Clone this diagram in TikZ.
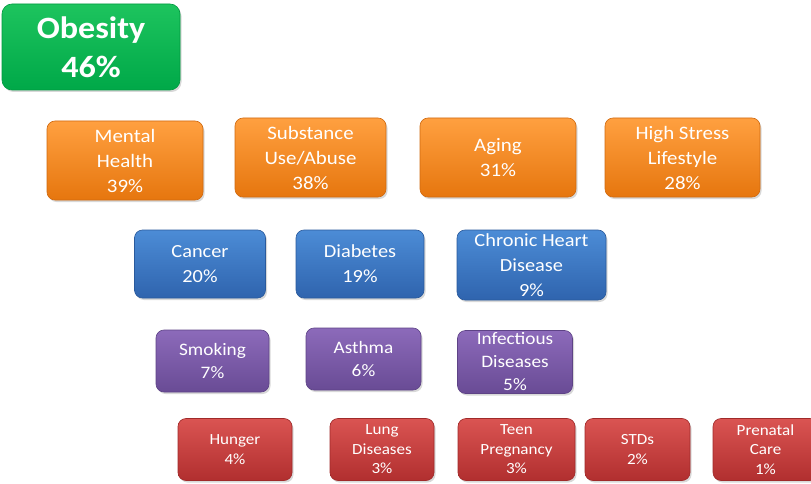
\documentclass[tikz,border=0pt]{standalone}
\usepackage{fontspec}
\setmainfont[FakeStretch=1.1]{Carlito}
\usetikzlibrary{shadows}
\definecolor{gtop}{HTML}{1DC45E}
\definecolor{gbot}{HTML}{00A848}
\definecolor{gdraw}{HTML}{009A40}
\definecolor{otop}{HTML}{FFA040}
\definecolor{obot}{HTML}{E6760E}
\definecolor{odraw}{HTML}{D06A10}
\definecolor{btop}{HTML}{4C8CD6}
\definecolor{bbot}{HTML}{2F64AE}
\definecolor{bdraw}{HTML}{2A5A9C}
\definecolor{ptop}{HTML}{8C6ABA}
\definecolor{pbot}{HTML}{694B95}
\definecolor{pdraw}{HTML}{5E4386}
\definecolor{rtop}{HTML}{DA5452}
\definecolor{rbot}{HTML}{B12F2F}
\definecolor{rdraw}{HTML}{A02A2A}
\tikzset{
  box/.style={rectangle, rounded corners=8pt, inner sep=0pt, align=center, text=white, line width=0.6pt,
    drop shadow={opacity=0.3, shadow xshift=1.5pt, shadow yshift=-2pt}},
  greenbox/.style={box, draw=gdraw, top color=gtop, bottom color=gbot, rounded corners=10pt,
    font=\fontsize{31}{39}\selectfont\bfseries},
  orangebox/.style={box, draw=odraw, top color=otop, bottom color=obot, minimum height=79pt,
    font=\fontsize{19}{25}\selectfont},
  bluebox/.style={box, draw=bdraw, top color=btop, bottom color=bbot,
    font=\fontsize{18.5}{25}\selectfont},
  purplebox/.style={box, draw=pdraw, top color=ptop, bottom color=pbot,
    font=\fontsize{17.5}{23}\selectfont},
  redbox/.style={box, draw=rdraw, top color=rtop, bottom color=rbot, minimum height=62pt,
    font=\fontsize{15.5}{19.5}\selectfont}
}
\begin{document}
\begin{tikzpicture}[x=1pt,y=-1pt]
\useasboundingbox (0,0) rectangle (811,484);
\fill[white] (0,0) rectangle (811,484);
\node[greenbox, minimum width=178pt, minimum height=86pt] (obesity) at (91,47) {Obesity\\46\%};
% orange row
\node[orangebox, minimum width=156pt] (mental) at (125,160.5) {Mental\\Health\\39\%};
\node[orangebox, minimum width=151pt] (substance) at (310.5,157.5) {Substance\\Use/Abuse\\38\%};
\node[orangebox, minimum width=156pt] (aging) at (498,157.5) {Aging\\31\%};
\node[orangebox, minimum width=155pt] (stress) at (682.5,157.5) {High Stress\\Lifestyle\\28\%};
% blue row
\node[bluebox, minimum width=131pt, minimum height=68pt] (cancer) at (200,264) {Cancer\\20\%};
\node[bluebox, minimum width=128pt, minimum height=68pt] (diabetes) at (360,264) {Diabetes\\19\%};
\node[bluebox, minimum width=149pt, minimum height=70pt] (heart) at (531.5,265) {Chronic Heart\\Disease\\9\%};
% purple row
\node[purplebox, minimum width=113pt, minimum height=62pt] (smoking) at (212.5,361) {Smoking\\7\%};
\node[purplebox, minimum width=115pt, minimum height=62pt] (asthma) at (363.5,359) {Asthma\\6\%};
\node[purplebox, minimum width=115pt, minimum height=63pt] (infectious) at (515,362) {Infectious\\Diseases\\5\%};
% red row
\node[redbox, minimum width=114pt] (hunger) at (235,449.5) {Hunger\\4\%};
\node[redbox, minimum width=104pt] (lung) at (382,449.5) {Lung\\Diseases\\3\%};
\node[redbox, minimum width=117pt] (teen) at (516.5,449.5) {Teen\\Pregnancy\\3\%};
\node[redbox, minimum width=105pt] (stds) at (637.5,449.5) {STDs\\2\%};
\node[redbox, minimum width=105pt] (prenatal) at (765.5,449.5) {Prenatal\\Care\\1\%};
\end{tikzpicture}
\end{document}
